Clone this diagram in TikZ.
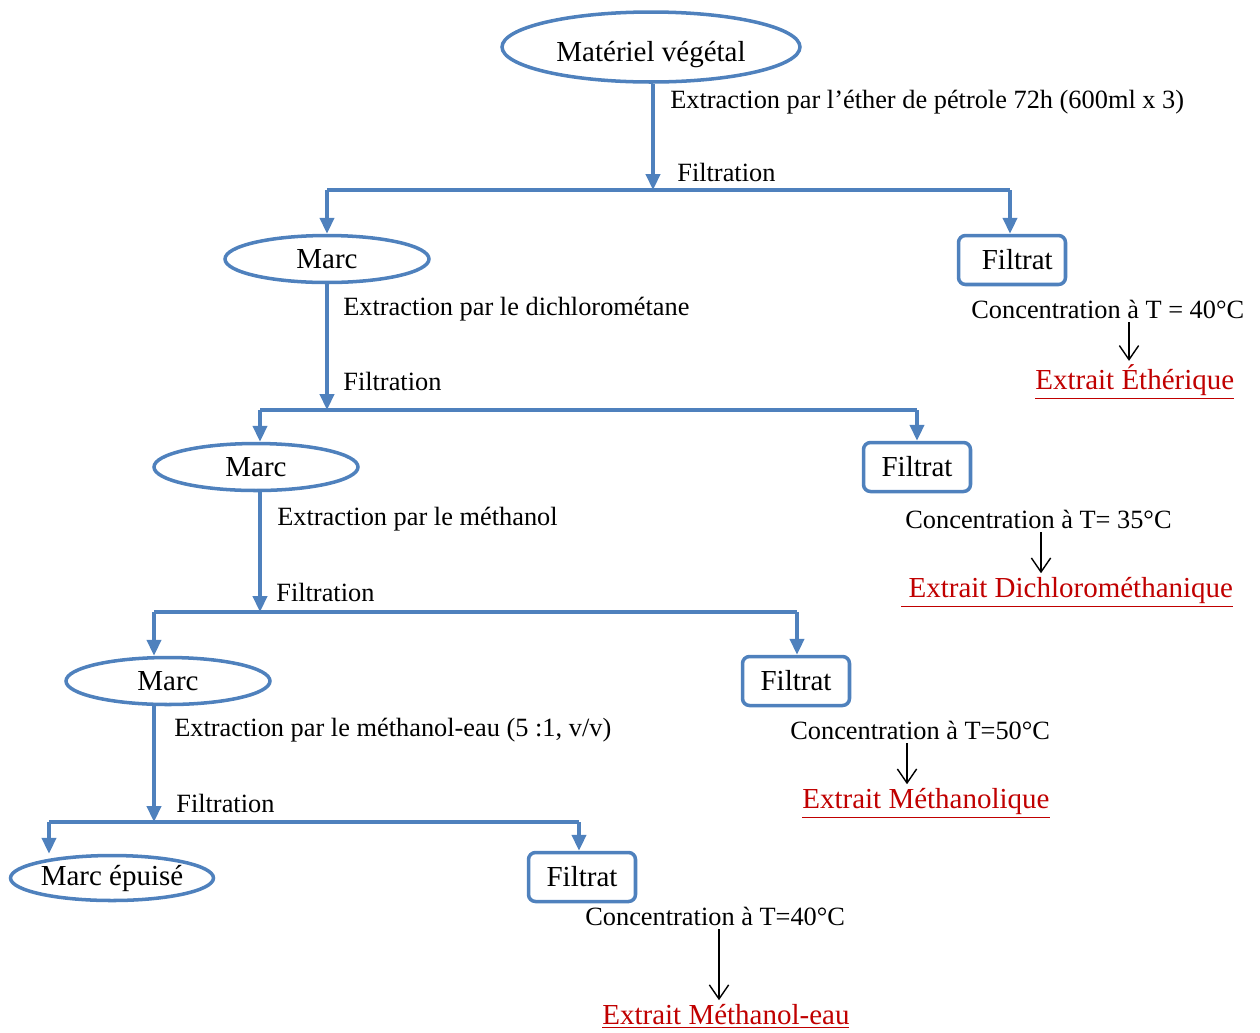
\documentclass[tikz,border=0pt]{standalone}
\usepackage{fontspec}
\setmainfont{Liberation Serif}
\usepackage{xcolor}
\usetikzlibrary{shapes.geometric, arrows.meta, positioning}

\definecolor{flowblue}{RGB}{79,129,189}
\definecolor{extred}{RGB}{192,0,0}

\begin{document}
\begin{tikzpicture}[
  x=0.02cm, y=-0.02cm,
  oval/.style={ellipse, draw=flowblue, line width=2pt, minimum width=4.08cm, minimum height=0.94cm, inner sep=0pt, font=\fontsize{16.5}{19}\selectfont},
  filtbox/.style={rectangle, rounded corners=4pt, draw=flowblue, line width=2pt, minimum width=2.14cm, minimum height=0.98cm, inner sep=0pt, font=\fontsize{16.5}{19}\selectfont},
  lab/.style={anchor=west, inner sep=0pt, font=\fontsize{15}{18}\selectfont},
  extrait/.style={anchor=west, inner sep=0pt, text=extred, font=\fontsize{16.5}{19}\selectfont},
  bar/.style={draw=flowblue, line width=2pt},
  flow/.style={bar, -{Triangle[length=9pt, width=8pt]}},
  concarrow/.style={-{Straight Barb[length=8pt, width=11pt]}, line width=0.8pt, shorten <=2pt, shorten >=2pt}
]
  \useasboundingbox (0,0) rectangle (1260,1032);

  % nodes
  \node[oval, minimum width=5.96cm, minimum height=1.4cm] (veg) at (651,47) {\raisebox{-4pt}[12pt][4pt]{Matériel végétal}};
  \node[oval] (marc1) at (327,259) {Marc};
  \node[filtbox] (filt1) at (1012,260) {\hspace{6pt}Filtrat};
  \node[oval] (marc2) at (256,467) {Marc};
  \node[filtbox] (filt2) at (917,467) {Filtrat};
  \node[oval] (marc3) at (168,681) {Marc};
  \node[filtbox] (filt3) at (796,681) {Filtrat};
  \node[oval, minimum width=4.06cm, minimum height=0.9cm] (marc4) at (112,878) {Marc épuisé};
  \node[filtbox] (filt4) at (582,877) {Filtrat};

  % labels
  \node[lab] (ext1lab) at (670,102) {Extraction par l’éther de pétrole 72h (600ml x 3)};
  \node[lab] (fil1lab) at (677,172) {Filtration};
  \node[lab] (ext2lab) at (343,309) {Extraction par le dichlorométane};
  \node[lab] (fil2lab) at (343,381) {Filtration};
  \node[lab] (ext3lab) at (277,519) {Extraction par le méthanol};
  \node[lab] (fil3lab) at (276,592) {Filtration};
  \node[lab] (ext4lab) at (174,730) {Extraction par le méthanol-eau (5 :1, v/v)};
  \node[lab] (fil4lab) at (176,803) {Filtration};

  \node[lab] (conc1) at (971,309) {Concentration à T = 40°C};
  \node[extrait] (res1) at (1035,382) {\underline{Extrait Éthérique}};
  \node[lab] (conc2) at (905,519) {Concentration à T= 35°C};
  \node[extrait] (res2) at (901,592) {\underline{~Extrait Dichlorométhanique}};
  \node[lab] (conc3) at (790,730) {Concentration à T=50°C};
  \node[extrait] (res3) at (802,803) {\underline{Extrait Méthanolique}};
  \node[lab] (conc4) at (585,916) {Concentration à T=40°C};
  \node[extrait] (res4) at (602,1016) {\underline{Extrait Méthanol-eau}};

  % branch points
  \coordinate (b1) at (653,190);
  \coordinate (l1) at (327,190);
  \coordinate (r1) at (1010,190);
  \coordinate (b2) at (327,410);
  \coordinate (l2) at (260,410);
  \coordinate (r2) at (917,410);
  \coordinate (b3) at (260,612);
  \coordinate (l3) at (154,612);
  \coordinate (r3) at (797,612);
  \coordinate (b4) at (154,822);
  \coordinate (l4) at (49,822);
  \coordinate (r4) at (579,822);

  % flow
  \draw[flow] (b1 |- veg.south) -- (b1);
  \draw[bar] (l1) -- (r1);
  \draw[flow] (l1) -- (l1 |- marc1.north);
  \draw[flow] (r1) -- (r1 |- filt1.north);

  \draw[flow] (marc1) -- (b2);
  \draw[bar] (l2) -- (r2);
  \draw[flow] (l2) -- (l2 |- marc2.north);
  \draw[flow] (r2) -- (r2 |- filt2.north);

  \draw[flow] (b3 |- marc2.south) -- (b3);
  \draw[bar] (l3) -- (r3);
  \draw[flow] (l3) -- (l3 |- marc3.north);
  \draw[flow] (r3) -- (r3 |- filt3.north);

  \draw[flow] (b4 |- marc3.south) -- (b4);
  \draw[bar] (l4) -- (r4);
  \draw[flow] (l4) -- (l4 |- marc4.north);
  \draw[flow] (r4) -- (r4 |- filt4.north);

  % concentration
  \draw[concarrow] (conc1.south -| 1129,0) -- (res1.north -| 1129,0);
  \draw[concarrow] (conc2.south -| 1041,0) -- (res2.north -| 1041,0);
  \draw[concarrow] (conc3.south -| 907,0) -- (res3.north -| 907,0);
  \draw[concarrow] (conc4.south -| 719,0) -- (res4.north -| 719,0);
\end{tikzpicture}
\end{document}
